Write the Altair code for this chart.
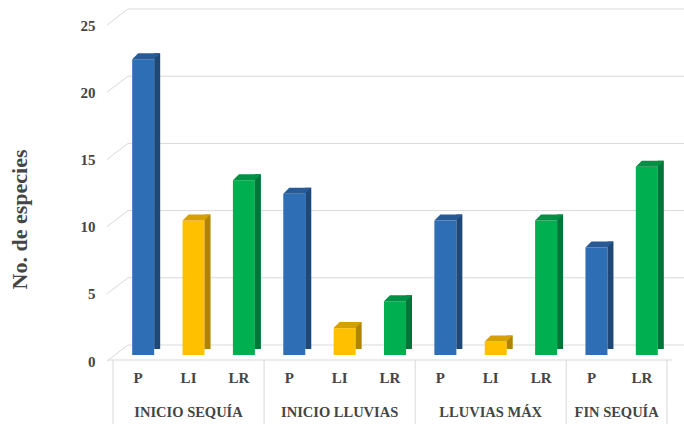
import altair as alt
import pandas as pd

# ---- data ----
groups = ["INICIO SEQUÍA", "INICIO SEQUÍA", "INICIO SEQUÍA",
          "INICIO LLUVIAS", "INICIO LLUVIAS", "INICIO LLUVIAS",
          "LLUVIAS MÁX", "LLUVIAS MÁX", "LLUVIAS MÁX",
          "FIN SEQUÍA", "FIN SEQUÍA"]
types = ["P", "LI", "LR", "P", "LI", "LR", "P", "LI", "LR", "P", "LR"]
values = [22, 10, 13, 12, 2, 4, 10, 1, 10, 8, 14]
group_names = ["INICIO SEQUÍA", "INICIO LLUVIAS", "LLUVIAS MÁX", "FIN SEQUÍA"]
y_ticks = [0, 5, 10, 15, 20, 25]

# ---- styles ----
type_order = ["P", "LI", "LR"]
front_colors = ["#2E6EB5", "#FFC000", "#00B050"]
side_colors = ["#1D4878", "#B08400", "#00753A"]
top_colors = ["#285A96", "#D6A000", "#009144"]
TEXT = "#454545"
GRID = "#D9D9D9"
FONT = "Liberation Serif"

W, H = 564, 336

df = pd.DataFrame({"grupo": groups, "tipo": types, "valor": values})
df["pos"] = [i + 0.5 for i in range(len(df))]

gdf = df.groupby("grupo", sort=False)["pos"].agg(["mean", "count"]).reindex(group_names).reset_index()
gdf.columns = ["grupo", "centro", "n"]
bounds = [0]
for n in gdf["n"]:
    bounds.append(bounds[-1] + int(n))
bdf = pd.DataFrame({"b": bounds})
tdf = pd.DataFrame({"v": y_ticks})

xs = alt.Scale(domain=[0, len(df)])
ys = alt.Scale(domain=[0, 25])

y_axis = alt.Axis(
    values=y_ticks, grid=False, domain=False, ticks=False,
    labelFont=FONT, labelFontWeight="bold", labelFontSize=15, labelColor=TEXT,
    labelPadding=13, labelOffset=6,
    title="No. de especies", titleFont=FONT, titleFontWeight="bold",
    titleFontSize=22, titleColor=TEXT, titleX=-89, titleY=200,
    titleAlign="center", titleBaseline="middle", titleAngle=-90)


def Y(field):
    return alt.Y(field, scale=ys, axis=y_axis)


back_grid = alt.Chart(tdf).mark_rule(color=GRID, strokeWidth=1, yOffset=-10).encode(
    y=Y("v:Q"),
    x=alt.value(20), x2=alt.value(W + 20),
)
diag = alt.Chart(tdf).mark_rule(color=GRID, strokeWidth=1, yOffset=6, y2Offset=-10).encode(
    y=Y("v:Q"), y2="v:Q",
    x=alt.value(-1), x2=alt.value(20),
)
floor_front = alt.Chart(tdf).transform_filter("datum.v == 0").mark_rule(
    color=GRID, strokeWidth=1, yOffset=5).encode(
    y=Y("v:Q"),
    x=alt.value(0), x2=alt.value(W),
)
seps = alt.Chart(bdf).mark_rule(color=GRID, strokeWidth=1).encode(
    x=alt.X("b:Q", scale=xs, axis=None),
    y=alt.value(H + 5), y2=alt.value(H + 69),
)

front = alt.Chart(df).mark_bar(width=22, xOffset=5).encode(
    x=alt.X("pos:Q", scale=xs, axis=None),
    y=Y("valor:Q"),
    color=alt.Color("tipo:N", scale=alt.Scale(domain=type_order, range=front_colors), legend=None),
)
side = alt.Chart(df).mark_bar(width=6, xOffset=19, yOffset=-6, y2Offset=-6).encode(
    x=alt.X("pos:Q", scale=xs, axis=None),
    y=Y("valor:Q"),
    color=alt.Color("tipo:N", scale=alt.Scale(domain=type_order, range=side_colors), legend=None),
)
top = alt.Chart(df).mark_point(
    shape="M-1.1,0L1.1,0L1.7,-0.6L-0.5,-0.6Z", size=400, filled=True, opacity=1,
    strokeWidth=0, xOffset=5,
).encode(
    x=alt.X("pos:Q", scale=xs, axis=None),
    y=Y("valor:Q"),
    color=alt.Color("tipo:N", scale=alt.Scale(domain=type_order, range=top_colors), legend=None),
)

type_lbl = alt.Chart(df).mark_text(
    font=FONT, fontWeight="bold", fontSize=15, color=TEXT, baseline="middle").encode(
    x=alt.X("pos:Q", scale=xs, axis=None),
    y=alt.value(H + 23),
    text="tipo:N",
)
group_lbl = alt.Chart(gdf).mark_text(
    font=FONT, fontWeight="bold", fontSize=14.5, color=TEXT, baseline="middle").encode(
    x=alt.X("centro:Q", scale=xs, axis=None),
    y=alt.value(H + 58),
    text="grupo:N",
)

chart = alt.layer(
    back_grid, diag, floor_front, seps, front, side, top, type_lbl, group_lbl
).resolve_scale(color="independent").properties(
    width=W, height=H,
    autosize=alt.AutoSizeParams(type="none"),
    padding={"left": 108, "top": 19, "right": 12, "bottom": 69},
    background="white",
).configure_view(stroke=None)

chart.save("out.html", embed_options={"renderer": "svg", "actions": False})
